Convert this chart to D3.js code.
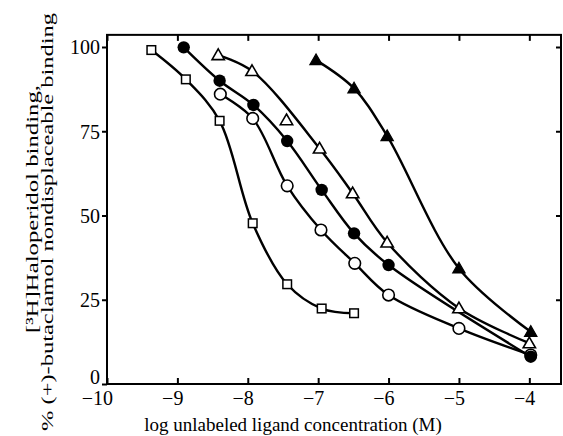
<!DOCTYPE html>
<html>
<head>
<meta charset="utf-8">
<script src="https://cdn.jsdelivr.net/npm/d3@7"></script>
<style>
  body { margin: 0; background: #fff; }
  text { font-family: "Liberation Serif", "DejaVu Serif", serif; fill: #000; }
</style>
</head>
<body>
<svg id="chart"></svg>
<script>
// log concentration (M) vs % binding
const squares = [[-9.37, 99.1], [-8.88, 90.4], [-8.4, 78.1], [-7.93, 47.7], [-7.44, 29.6], [-6.95, 22.4], [-6.49, 21]];
const filledCircles = [[-8.91, 99.9], [-8.4, 90], [-7.92, 82.8], [-7.44, 72.1], [-6.95, 57.6], [-6.49, 44.7], [-6.0, 35.3], [-3.98, 8.1]];
const openCircles = [[-8.39, 86], [-7.93, 78.8], [-7.44, 58.8], [-6.96, 45.7], [-6.48, 35.8], [-6.0, 26.4], [-5.0, 16.5], [-3.98, 8.6]];
const openTriangles = [[-8.42, 97.6], [-7.94, 92.9], [-7.45, 78.3], [-6.98, 69.9], [-6.51, 56.6], [-6.02, 42], [-5.0, 22.5], [-4.0, 12.1]];
const filledTriangles = [[-7.03, 96.1], [-6.49, 87.7], [-6.02, 73.6], [-5.0, 34.3], [-3.98, 15.5]];
// the open-triangle curve was drawn past its third point
const openTriangleSkip = [2];

const xTicks = [-10, -9, -8, -7, -6, -5, -4];
const yTicks = [0, 25, 50, 75, 100];
const xTitle = "log unlabeled ligand concentration (M)";
const yTitle = ["[³H]Haloperidol binding,", "% (+)-butaclamol nondisplaceable binding"];

const W = 563, H = 436;
const svg = d3.select("#chart").attr("width", W).attr("height", H);

const x = d3.scaleLinear().domain([-10, -3.55]).range([107, 561]);
const y = d3.scaleLinear().domain([0, 100]).range([384, 47]);
const yTop = y(103.6);

const line = d3.line()
  .x(d => x(d[0]))
  .y(d => y(d[1]))
  .curve(d3.curveCatmullRom.alpha(0.5));

// frame
svg.append("rect")
  .attr("x", x(-10)).attr("y", yTop)
  .attr("width", x.range()[1] - x(-10))
  .attr("height", y(0) - yTop)
  .attr("fill", "none").attr("stroke", "#000").attr("stroke-width", 2);

// bottom axis, ticks inward
const bottomAxis = svg.append("g")
  .attr("transform", `translate(0,${y(0)})`)
  .call(d3.axisBottom(x).tickValues(xTicks).tickSizeInner(-6).tickSizeOuter(0)
    .tickFormat(d => "\u2212" + Math.abs(d)));
bottomAxis.select(".domain").remove();
bottomAxis.selectAll("line").attr("stroke-width", 2);
bottomAxis.selectAll("text")
  .attr("y", 21).attr("dy", null)
  .attr("x", 5.5).attr("text-anchor", "end")
  .style("font-size", "20px");

// top axis, ticks inward
const topAxis = svg.append("g")
  .attr("transform", `translate(0,${yTop})`)
  .call(d3.axisTop(x).tickValues(xTicks).tickSizeInner(-6).tickSizeOuter(0).tickFormat(""));
topAxis.select(".domain").remove();
topAxis.selectAll("line").attr("stroke-width", 2);

// left axis, ticks outward
const leftAxis = svg.append("g")
  .attr("transform", `translate(${x(-10)},0)`)
  .call(d3.axisLeft(y).tickValues(yTicks).tickSizeInner(5).tickSizeOuter(0).tickPadding(2));
leftAxis.select(".domain").remove();
leftAxis.selectAll("line").attr("stroke-width", 2);
leftAxis.selectAll("text")
  .attr("dy", "0.34em")
  .style("font-size", "20px");
leftAxis.selectAll(".tick").filter(d => d === 0).select("text").attr("dy", "-0.05em");

// right axis, ticks inward
const rightAxis = svg.append("g")
  .attr("transform", `translate(${x.range()[1]},0)`)
  .call(d3.axisRight(y).tickValues(yTicks.filter(d => d > 0)).tickSizeInner(-5).tickSizeOuter(0).tickFormat(""));
rightAxis.select(".domain").remove();
rightAxis.selectAll("line").attr("stroke-width", 2);

// titles
svg.append("text")
  .attr("x", 293).attr("y", 431)
  .attr("text-anchor", "middle")
  .style("font-size", "19px")
  .text(xTitle);

const yT = svg.append("g");
yT.append("text")
  .attr("transform", "translate(38,209) rotate(-90)")
  .attr("text-anchor", "middle")
  .attr("textLength", 248).attr("lengthAdjust", "spacingAndGlyphs")
  .style("font-size", "17px")
  .text(yTitle[0]);
yT.append("text")
  .attr("transform", "translate(53,222) rotate(-90)")
  .attr("text-anchor", "middle")
  .attr("textLength", 418).attr("lengthAdjust", "spacingAndGlyphs")
  .style("font-size", "17px")
  .text(yTitle[1]);

// curves
const curves = [
  squares,
  openCircles,
  filledCircles,
  openTriangles.filter((d, i) => !openTriangleSkip.includes(i)),
  filledTriangles
];
svg.append("g").selectAll("path")
  .data(curves)
  .join("path")
  .attr("d", line)
  .attr("fill", "none")
  .attr("stroke", "#000")
  .attr("stroke-width", 2.4);

// markers
const tri = d3.symbol().type(d3.symbolTriangle).size(66);

svg.append("g").selectAll("rect")
  .data(squares)
  .join("rect")
  .attr("x", d => x(d[0]) - 4.3).attr("y", d => y(d[1]) - 4.3)
  .attr("width", 8.6).attr("height", 8.6)
  .attr("fill", "#fff").attr("stroke", "#000").attr("stroke-width", 1.5);

svg.append("g").selectAll("circle")
  .data(openCircles)
  .join("circle")
  .attr("cx", d => x(d[0])).attr("cy", d => y(d[1])).attr("r", 5.8)
  .attr("fill", "#fff").attr("stroke", "#000").attr("stroke-width", 1.6);

svg.append("g").selectAll("circle")
  .data(filledCircles)
  .join("circle")
  .attr("cx", d => x(d[0])).attr("cy", d => y(d[1])).attr("r", 6.2)
  .attr("fill", "#000");

svg.append("g").selectAll("path")
  .data(openTriangles)
  .join("path")
  .attr("d", tri)
  .attr("transform", d => `translate(${x(d[0])},${y(d[1]) + 1})`)
  .attr("fill", "#fff").attr("stroke", "#000").attr("stroke-width", 1.6);

svg.append("g").selectAll("path")
  .data(filledTriangles)
  .join("path")
  .attr("d", tri)
  .attr("transform", d => `translate(${x(d[0])},${y(d[1]) + 1})`)
  .attr("fill", "#000").attr("stroke", "#000").attr("stroke-width", 1.2);
</script>
</body>
</html>
